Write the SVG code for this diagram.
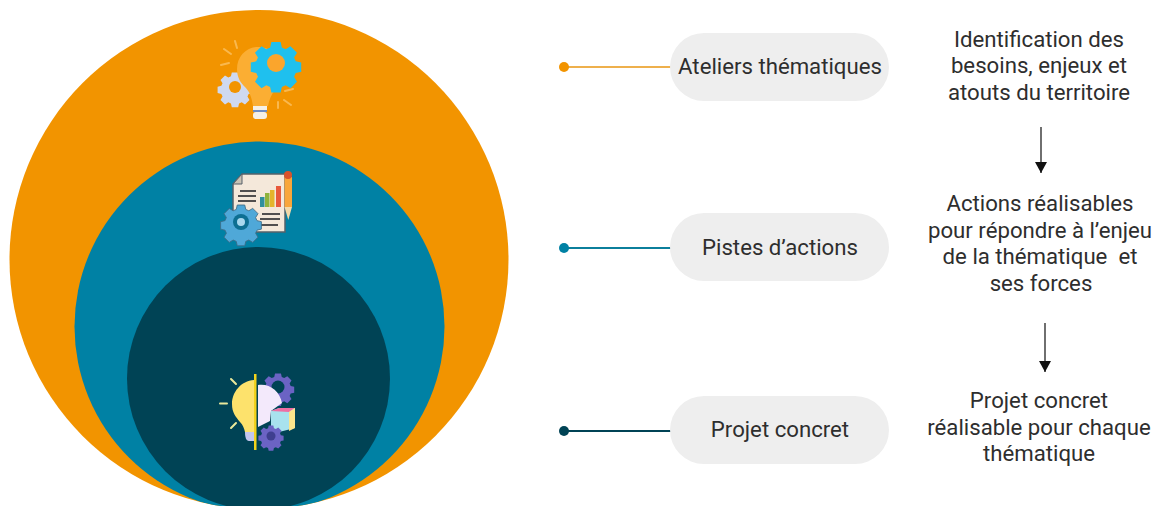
<svg xmlns="http://www.w3.org/2000/svg" width="1159" height="506" viewBox="0 0 1159 506">
<style>
text{font-family:Roboto,"Liberation Sans",sans-serif;font-size:22.2px;fill:#2e2e2e;text-anchor:middle;white-space:pre}
.pill{fill:#eeeeee}
.cn{fill:none;stroke-width:2}
.ar{stroke:#222;stroke-width:1.3;fill:none;marker-end:url(#ah)}
.spoke{stroke-width:2;stroke-linecap:round;fill:none}
</style>
<defs>
<marker id="ah" markerUnits="userSpaceOnUse" markerWidth="12" markerHeight="11" refX="6" refY="11" orient="0" viewBox="0 0 12 11"><path d="M0 0 L12 0 L6 11Z" fill="#111"/></marker>
<clipPath id="big"><circle cx="259" cy="259.500" r="249.500"/></clipPath>
<path id="gear" d="M-2.2 -10 h4.4 l.6 2.6 1.8 .8 2.3 -1.4 3.1 3.1 -1.4 2.3 .8 1.8 2.6 .6 v4.4 l-2.6 .6 -.8 1.8 1.4 2.3 -3.1 3.1 -2.3 -1.4 -1.8 .8 -.6 2.6 h-4.4 l-.6 -2.6 -1.8 -.8 -2.3 1.4 -3.1 -3.1 1.4 -2.3 -.8 -1.8 -2.6 -.6 v-4.4 l2.6 -.6 .8 -1.8 -1.4 -2.3 3.1 -3.1 2.3 1.4 1.8 -.8z"/>
</defs>
<rect width="1159" height="506" fill="#fff"/>
<g id="circles">
<circle id="circle-outer" cx="259" cy="259.500" r="249.500" fill="#f29400"/>
<g clip-path="url(#big)">
<circle id="circle-middle" cx="259.500" cy="326.500" r="185" fill="#0081a4"/>
<circle id="circle-inner" cx="258.500" cy="378.500" r="131.500" fill="#004355"/>
</g>
</g>
<g id="icon-bulb">
<g class="spoke" stroke="#f9b84e"><path d="M224 49l7 5M221 65l8-2M235 41l2 7M285 91l8-2M284 100l7 5M278 102v6"/></g>
<use href="#gear" transform="translate(235 87) scale(1.45)" fill="#cfd9f0"/>
<circle cx="235" cy="87" r="6" fill="#f29400"/>
<path d="M258 47c-12 0-21 10-21 22 0 9 4 14 8 18 5 5 7 12 8 19h15c1-6 3-11 7-16 4-5 8-10 8-20 0-13-12-23-25-23z" fill="#fbae33"/>
<rect x="253" y="106" width="14" height="4" fill="#f5f0e6"/>
<rect x="253" y="110" width="14" height="2" fill="#6d8cc2"/>
<rect x="253" y="112" width="14" height="7" rx="3" fill="#f5f0e6"/>
<use href="#gear" transform="translate(276 63) scale(2.1)" fill="#1fc0ee"/>
<circle cx="276" cy="63" r="9" fill="#fba52c"/>
</g>
<g id="icon-plan">
<path d="M242 174h43v58h-52v-48z" fill="#f4e8da" stroke="#56616a" stroke-width="1.500"/>
<path d="M233 184l9-10v10z" fill="#c9c2b4" stroke="#56616a"/>
<g fill="#514f4f"><rect x="240" y="190" width="16" height="2"/><rect x="238" y="195" width="18" height="2"/><rect x="238" y="200" width="18" height="2"/><rect x="262" y="213" width="18" height="2"/><rect x="260" y="218" width="20" height="2"/><rect x="260" y="224" width="18" height="2"/></g>
<rect x="260" y="197" width="4.500" height="10" fill="#2f8f9d"/>
<rect x="265" y="193" width="4.500" height="14" fill="#8fb33c"/>
<rect x="270" y="190" width="4.500" height="17" fill="#e4b52c"/>
<rect x="276" y="186" width="5" height="21" fill="#e8593c"/>
<rect x="284.500" y="177" width="7.500" height="30" fill="#f9a63a"/>
<path d="M284.500 207h7.500l-3.700 13z" fill="#f3d9a8"/>
<circle cx="288" cy="175" r="4" fill="#d9532c"/>
<use href="#gear" transform="translate(241 222) scale(1.7)" fill="#4fa8d8" stroke="#3f6b85" stroke-width=".5"/>
<circle cx="241" cy="222" r="8" fill="#0d6f92"/>
<circle cx="241" cy="222" r="4" fill="#a9d8ee"/>
</g>
<g id="icon-project">
<g class="spoke" stroke="#e9e89b"><path d="M231 379l5 5M220 403.500h7M231 428l5-5"/></g>
<path d="M254 380c-13 1-22 12-22 24 0 9 4 13 8 18 3 3 4 6 5 10h9z" fill="#fde26c"/>
<path d="M245 432h9v9h-5c-3 0-4-4-4-9z" fill="#c3c6ee"/>
<use href="#gear" transform="translate(278 387) scale(1.35)" fill="#6b63c4"/>
<circle cx="278" cy="387" r="6.500" fill="#004355"/>
<path d="M258 385c11-2 22 6 24 18l-11 8-1 10-12 6z" fill="#f3e9fb"/>
<path d="M271 411l8-3h16v20l-16 4h-8z" fill="#a8e2ee"/>
<path d="M271 411l8-3h16l-6 4z" fill="#ee6fa4"/>
<path d="M289 412l6-4v20l-6 3z" fill="#fbe58c"/>
<use href="#gear" transform="translate(271 436) scale(1.05)" fill="#6b63c4"/>
<circle cx="271" cy="436" r="4.500" fill="#3f3f8f"/>
<rect x="254" y="374" width="2.500" height="76" fill="#f2d21c"/>
</g>
<g id="connectors">
<path class="cn" d="M564 67H671" stroke="#eeb04c"/>
<path class="cn" d="M564 248H671" stroke="#0b7f9c"/>
<path class="cn" d="M564 431H671" stroke="#004355"/>
<circle cx="564" cy="67" r="5" fill="#f29400"/>
<circle cx="564" cy="248" r="5" fill="#0081a4"/>
<circle cx="564" cy="431" r="5" fill="#004355"/>
<path class="ar" d="M1041 127V173"/>
<path class="ar" d="M1045 323V372"/>
</g>
<g id="node-ateliers"><rect class="pill" x="670" y="33" width="219" height="68" rx="34"/><text x="780" y="74">Ateliers thématiques</text></g>
<g id="node-pistes"><rect class="pill" x="670" y="213" width="219" height="68" rx="34"/><text x="780" y="255">Pistes d’actions</text></g>
<g id="node-projet"><rect class="pill" x="670" y="396" width="219" height="68" rx="34"/><text x="780" y="437">Projet concret</text></g>
<g id="desc-1"><text x="1039" y="47">Identification des</text><text x="1039" y="73">besoins, enjeux et</text><text x="1039" y="100">atouts du territoire</text></g>
<g id="desc-2"><text x="1040" y="211">Actions réalisables</text><text x="1040" y="238">pour répondre à l’enjeu</text><text x="1040" y="264">de la thématique  et</text><text x="1041" y="291">ses forces</text></g>
<g id="desc-3"><text x="1039" y="408">Projet concret</text><text x="1039" y="435">réalisable pour chaque</text><text x="1039" y="461">thématique</text></g>
</svg>
